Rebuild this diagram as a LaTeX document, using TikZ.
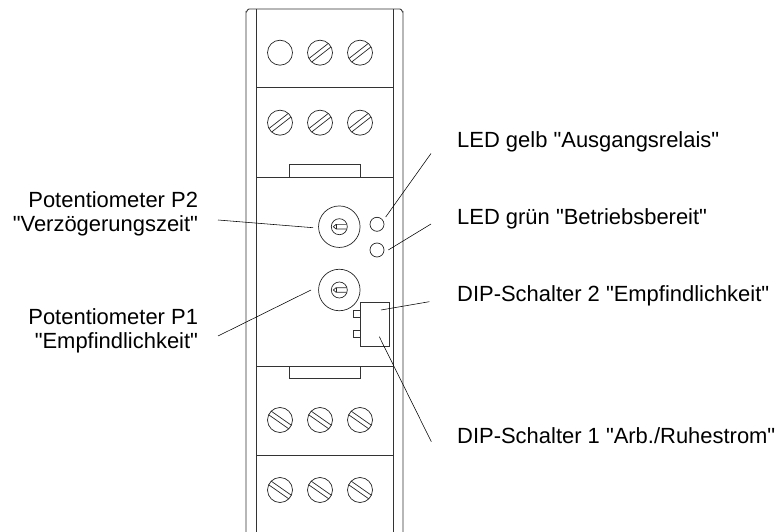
\documentclass[tikz,border=0pt]{standalone}
\usepackage{fontspec}
\setmainfont[Ligatures=TeXOff]{Liberation Sans}
\usetikzlibrary{positioning}

\begin{document}
\begin{tikzpicture}[
    x=1bp, y=-1bp,
    % Styles
    housing/.style={draw=black!80, line width=0.9bp},
    screw/.style={circle, draw=black!85, line width=0.7bp, minimum size=25bp, inner sep=0pt},
    led/.style={circle, draw=black!85, line width=0.7bp, minimum size=14bp, inner sep=0pt},
    potouter/.style={circle, draw=black!85, line width=0.7bp, minimum size=41.5bp, inner sep=0pt},
    potinner/.style={circle, draw=black!85, line width=0.7bp, minimum size=16bp, inner sep=0pt},
    dip/.style={rectangle, draw=black!80, line width=0.7bp, inner sep=0pt},
    leader/.style={draw=black, line width=0.55bp},
    label/.style={font=\fontsize{21.95bp}{24bp}\selectfont, inner sep=0pt, text=black},
    slot/.pic={
        \draw[black!85, line width=0.7bp] (-12.3,-2.2) -- (12.3,-2.2);
        \draw[black!85, line width=0.7bp] (-12.3,2.2) -- (12.3,2.2);
    },
    knob/.pic={
        \draw[black!85, line width=0.7bp] (7.4,-2.3) -- (-3.2,-2.3) -- (-6,0) -- (-3.2,2.3) -- (7.4,2.3);
        \draw[black!85, line width=0.7bp] (-3.2,-2.3) -- (-3.2,2.3);
    },
]
\useasboundingbox (0,0) rectangle (779,532);

% Housing
\draw[housing] (246,532) -- (246,12) to[out=-90, in=180] (249,9) -- (400,9) to[out=0, in=-90] (403,12) -- (403,532);
\draw[housing] (256,9) -- (256,532);
\draw[housing] (393,9) -- (393,532);
\draw[housing] (256,87.5) -- (393,87.5);
\draw[housing] (256,177) -- (393,177);
\draw[housing] (256,366) -- (393,366);
\draw[housing] (256,455) -- (393,455);
\draw[housing] (289.5,177) -- (289.5,164.5) -- (360,164.5) -- (360,177);
\draw[housing] (289.5,366) -- (289.5,378) -- (360,378) -- (360,366);

% Terminal screws, top
\node[screw] (hole) at (280,52.7) {};
\foreach \i/\xpos in {2/320, 3/360} {
    \node[screw] (screwa\i) at (\xpos,52.7) {};
    \pic[rotate=38] at (screwa\i) {slot};
}
\foreach \i/\xpos in {1/280, 2/320, 3/360} {
    \node[screw] (screwb\i) at (\xpos,122.7) {};
    \pic[rotate=38] at (screwb\i) {slot};
}

% Terminal screws, bottom
\foreach \i/\xpos in {1/280, 2/320, 3/360} {
    \node[screw] (screwc\i) at (\xpos,420) {};
    \pic[rotate=-35] at (screwc\i) {slot};
    \node[screw] (screwd\i) at (\xpos,490) {};
    \pic[rotate=-35] at (screwd\i) {slot};
}

% Potentiometers
\node[potouter] (ptwo) at (339.3,226.7) {};
\node[potinner] (ptwoknob) at (ptwo) {};
\pic at (ptwo) {knob};
\node[potouter] (pone) at (339.3,290) {};
\node[potinner] (poneknob) at (pone) {};
\pic at (pone) {knob};

% LEDs
\node[led] (ledgelb) at (377,224.3) {};
\node[led] (ledgruen) at (377,250) {};

% DIP switch
\node[dip, minimum width=28.3bp, minimum height=43.3bp] (dipbox) at (374.9,324.4) {};
\node[dip, minimum width=6.7bp, minimum height=7.5bp, anchor=east] (diptwo) at (dipbox.west |- 0,314) {};
\node[dip, minimum width=6.7bp, minimum height=7.5bp, anchor=east] (dipone) at (dipbox.west |- 0,334) {};

% Labels
\node[label, align=right, anchor=east, outer xsep=20bp] (labelptwo) at (218,213.7) {Potentiometer P2\\"Verzögerungszeit"};
\node[label, align=right, anchor=east, outer xsep=20bp] (labelpone) at (218,330.7) {Potentiometer P1\\"Empfindlichkeit"};
\node[label, anchor=base west] (labelgelb) at (457,147.3) {LED gelb "Ausgangsrelais"};
\node[label, anchor=base west] (labelgruen) at (457,225) {LED grün "Betriebsbereit"};
\node[label, anchor=base west] (labeldiptwo) at (457,301.7) {DIP-Schalter 2 "Empfindlichkeit"};
\node[label, anchor=base west] (labeldipone) at (457,443) {DIP-Schalter 1 "Arb./Ruhestrom"};

% Leader lines
\coordinate (tipptwo) at (313,227.7);
\coordinate (tippone) at (311,290);
\coordinate (tipgelb) at (385.7,217);
\coordinate (tipgruen) at (388.3,250);
\coordinate (tipdiptwo) at (381,310);
\coordinate (tipdipone) at (379.3,336.7);
\draw[leader] ([yshift=-6.3bp]labelptwo.east) -- (tipptwo);
\draw[leader] ([yshift=-5.3bp]labelpone.east) -- (tippone);
\draw[leader] ([shift={(-26,6.2)}]labelgelb.base west) -- (tipgelb);
\draw[leader] ([shift={(-26,-1)}]labelgruen.base west) -- (tipgruen);
\draw[leader] ([shift={(-27.7,0)}]labeldiptwo.base west) -- (tipdiptwo);
\draw[leader] ([shift={(-25.7,-1.3)}]labeldipone.base west) -- (tipdipone);

\end{tikzpicture}
\end{document}
